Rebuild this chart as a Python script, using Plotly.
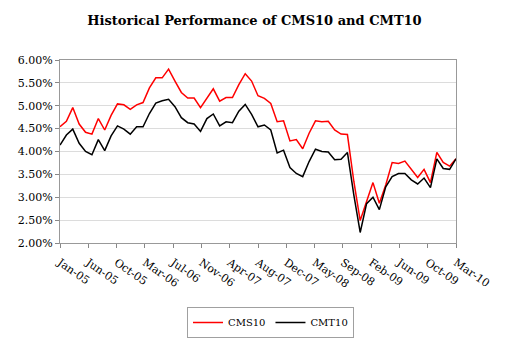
import numpy as np
import plotly.graph_objects as go

# Monthly data Jan-05 .. Mar-10 (63 months), values in percent
cms10 = [4.54, 4.66, 4.96, 4.60, 4.42, 4.38, 4.72, 4.47, 4.79, 5.04,
         5.02, 4.92, 5.02, 5.07, 5.39, 5.61, 5.61, 5.80, 5.54, 5.29,
         5.17, 5.17, 4.96, 5.17, 5.37, 5.10, 5.18, 5.18, 5.46, 5.70,
         5.54, 5.22, 5.16, 5.05, 4.65, 4.67, 4.23, 4.26, 4.06, 4.40,
         4.67, 4.65, 4.66, 4.47, 4.38, 4.37, 3.35, 2.49, 2.91, 3.32,
         2.87, 3.27, 3.76, 3.74, 3.79, 3.61, 3.43, 3.61, 3.32, 3.98,
         3.76, 3.68, 3.84]
cmt10 = [4.14, 4.36, 4.49, 4.18, 4.00, 3.93, 4.26, 4.02, 4.34, 4.56,
         4.49, 4.38, 4.54, 4.54, 4.83, 5.06, 5.11, 5.14, 4.98, 4.74,
         4.63, 4.60, 4.44, 4.72, 4.82, 4.56, 4.65, 4.63, 4.88, 5.03,
         4.81, 4.54, 4.58, 4.47, 3.97, 4.03, 3.65, 3.52, 3.45, 3.78,
         4.05, 4.00, 3.99, 3.82, 3.83, 3.98, 3.05, 2.23, 2.86, 3.00,
         2.73, 3.23, 3.45, 3.52, 3.52, 3.38, 3.29, 3.42, 3.21, 3.84,
         3.63, 3.61, 3.84]
tick_labels = ["Jan-05", "Jun-05", "Oct-05", "Mar-06", "Jul-06", "Nov-06",
               "Apr-07", "Aug-07", "Dec-07", "May-08", "Sep-08", "Feb-09",
               "Jun-09", "Oct-09", "Mar-10"]

x = list(range(len(cms10)))
tickvals = list(np.linspace(0, len(cms10) - 1, len(tick_labels)))

serif = "DejaVu Serif, serif"

fig = go.Figure()
fig.add_trace(go.Scatter(x=x, y=[v / 100 for v in cms10], mode="lines",
                         name="CMS10", line=dict(color="#ff0000", width=1.5)))
fig.add_trace(go.Scatter(x=x, y=[v / 100 for v in cmt10], mode="lines",
                         name="CMT10", line=dict(color="#000000", width=1.5)))

fig.update_layout(
    width=509, height=340,
    margin=dict(l=60, r=53, t=60, b=97, autoexpand=False),
    paper_bgcolor="white", plot_bgcolor="white",
    title=dict(text="<b>Historical Performance of CMS10 and CMT10</b>",
               font=dict(family=serif, size=13, color="black"),
               x=0.5, xref="container", xanchor="center",
               y=1 - 20 / 340, yref="container", yanchor="middle"),
    showlegend=True,
    legend=dict(orientation="h", x=187 / 509, xref="container", xanchor="left",
                y=1 - 307 / 340, yref="container", yanchor="top",
                bordercolor="#a0a0a0", borderwidth=1,
                font=dict(family=serif, size=10, color="black"),
                itemwidth=30, tracegroupgap=0),
)
fig.update_xaxes(range=[0, len(cms10) - 1], tickmode="array",
                 tickvals=tickvals, ticktext=tick_labels, tickangle=35,
                 ticks="outside", ticklen=4, tickcolor="#888888",
                 ticklabelstandoff=4, automargin=False,
                 showline=True, linecolor="#999999", linewidth=1, mirror=True,
                 showgrid=False, zeroline=False,
                 tickfont=dict(family=serif, size=11, color="black"))
fig.update_yaxes(range=[0.02, 0.06], dtick=0.005, tickformat=".2%",
                 ticks="outside", ticklen=4, tickcolor="#888888",
                 automargin=False,
                 showline=True, linecolor="#999999", linewidth=1, mirror=True,
                 showgrid=True, gridcolor="#dcdcdc", gridwidth=1, zeroline=False,
                 tickfont=dict(family=serif, size=11, color="black"))

fig.write_html("out.html")
